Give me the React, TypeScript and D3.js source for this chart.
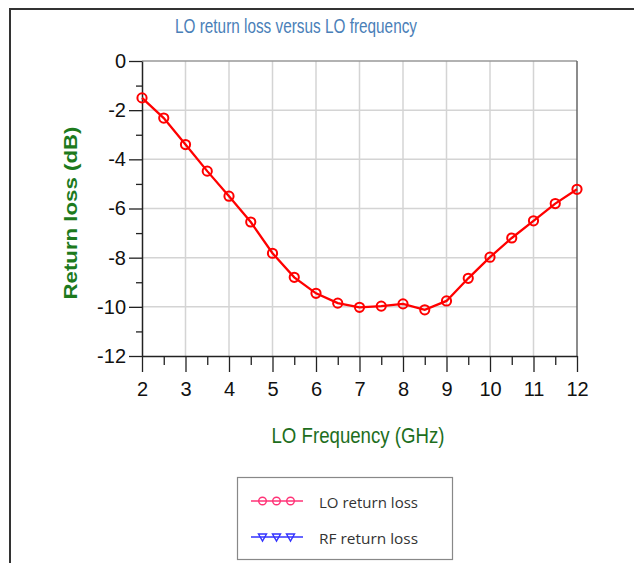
import { useEffect, useRef } from 'react';
import * as d3 from 'd3';

// LO frequency (GHz) and measured LO return loss (dB)
const freqs = [2, 2.5, 3, 3.5, 4, 4.5, 5, 5.5, 6, 6.5, 7, 7.5, 8, 8.5, 9, 9.5, 10, 10.5, 11, 11.5, 12];
const loReturnLoss = [-1.5, -2.32, -3.4, -4.48, -5.5, -6.55, -7.82, -8.8, -9.45, -9.85, -10.02, -9.97, -9.88, -10.12, -9.76, -8.84, -7.98, -7.2, -6.5, -5.8, -5.22];

const xMajorTicks = [2, 3, 4, 5, 6, 7, 8, 9, 10, 11, 12];
const xMinorTicks = [2.5, 3.5, 4.5, 5.5, 6.5, 7.5, 8.5, 9.5, 10.5, 11.5];
const yMajorTicks = [0, -2, -4, -6, -8, -10, -12];
const yMinorTicks = [-1, -3, -5, -7, -9, -11];

const legendItems = ['LO return loss', 'RF return loss'];

const NARROW = 'Liberation Sans Narrow, Arial Narrow, Liberation Sans, Arial, sans-serif';

const App = () => {
    const svgRef = useRef<SVGSVGElement | null>(null);

    useEffect(() => {
        if (!svgRef.current) return;
        const svg = d3.select(svgRef.current);
        svg.selectAll('*').remove();

        const width = 634;
        const height = 563;
        const margin = { top: 61, right: 57, bottom: 207, left: 142 };

        const x = d3.scaleLinear().domain([2, 12]).range([margin.left, width - margin.right]);
        const y = d3.scaleLinear().domain([-12, 0]).range([height - margin.bottom, margin.top]);

        svg.append('rect').attr('width', width).attr('height', height).attr('fill', '#fff');

        // outer frame (only top and left edges visible)
        svg.append('path')
            .attr('d', `M10,${height + 5}V9H${width + 5}`)
            .attr('fill', 'none')
            .attr('stroke', '#333')
            .attr('stroke-width', 2);

        // title
        svg.append('text')
            .attr('x', 296)
            .attr('y', 33)
            .attr('text-anchor', 'middle')
            .attr('font-family', NARROW)
            .attr('font-size', 21)
            .attr('fill', '#4a80b8')
            .attr('textLength', 242)
            .attr('lengthAdjust', 'spacingAndGlyphs')
            .text('LO return loss versus LO frequency');

        // grid
        const grid = svg.append('g').attr('stroke', '#d4d4d4').attr('stroke-width', 1.5);
        grid.selectAll('line.v')
            .data(xMajorTicks.slice(1, -1))
            .join('line')
            .attr('class', 'v')
            .attr('x1', d => x(d)).attr('x2', d => x(d))
            .attr('y1', y(0)).attr('y2', y(-12));
        grid.selectAll('line.h')
            .data(yMajorTicks.slice(1, -1))
            .join('line')
            .attr('class', 'h')
            .attr('x1', x(2)).attr('x2', x(12))
            .attr('y1', d => y(d)).attr('y2', d => y(d));

        // plot frame top / right
        svg.append('line')
            .attr('x1', x(2)).attr('x2', x(12)).attr('y1', y(0)).attr('y2', y(0))
            .attr('stroke', '#999').attr('stroke-width', 1.5);
        svg.append('line')
            .attr('x1', x(12)).attr('x2', x(12)).attr('y1', y(0)).attr('y2', y(-12))
            .attr('stroke', '#666').attr('stroke-width', 1.5);

        // axes
        const fmt = (d: d3.NumberValue) => String(d);
        const xAxis = svg.append('g')
            .attr('transform', `translate(0,${y(-12)})`)
            .call(d3.axisBottom(x).tickValues(xMajorTicks).tickFormat(fmt).tickSize(16).tickPadding(10).tickSizeOuter(0));
        svg.append('g')
            .attr('transform', `translate(0,${y(-12)})`)
            .call(d3.axisBottom(x).tickValues(xMinorTicks).tickSize(9).tickFormat(() => '').tickSizeOuter(0))
            .call(g => g.select('.domain').remove());

        const yAxis = svg.append('g')
            .attr('transform', `translate(${x(2)},0)`)
            .call(d3.axisLeft(y).tickValues(yMajorTicks).tickFormat(fmt).tickSize(13).tickPadding(3).tickSizeOuter(0));
        svg.append('g')
            .attr('transform', `translate(${x(2)},0)`)
            .call(d3.axisLeft(y).tickValues(yMinorTicks).tickSize(6).tickFormat(() => '').tickSizeOuter(0))
            .call(g => g.select('.domain').remove());

        [xAxis, yAxis].forEach(g => {
            g.select('.domain').attr('stroke', '#222').attr('stroke-width', 1.5);
            g.attr('font-family', NARROW).attr('font-size', 20);
            g.selectAll('text').attr('fill', '#111');
        });
        svg.selectAll('.tick line').attr('stroke', '#222').attr('stroke-width', 1.3);

        // axis titles
        svg.append('text')
            .attr('transform', `translate(77,213) rotate(-90)`)
            .attr('text-anchor', 'middle')
            .attr('font-family', 'Liberation Sans, Arial, sans-serif')
            .attr('font-size', 18)
            .attr('font-weight', 'bold')
            .attr('fill', '#1d7a1d')
            .attr('textLength', 173)
            .attr('lengthAdjust', 'spacingAndGlyphs')
            .text('Return loss (dB)');

        svg.append('text')
            .attr('x', 358)
            .attr('y', 443)
            .attr('text-anchor', 'middle')
            .attr('font-family', NARROW)
            .attr('font-size', 22)
            .attr('fill', '#1d6e1d')
            .attr('textLength', 173)
            .attr('lengthAdjust', 'spacingAndGlyphs')
            .text('LO Frequency (GHz)');

        // series
        const line = d3.line<number>().x((d, i) => x(freqs[i])).y(d => y(d));
        svg.append('path')
            .datum(loReturnLoss)
            .attr('d', line)
            .attr('fill', 'none')
            .attr('stroke', '#ff0000')
            .attr('stroke-width', 2.3);
        svg.append('g')
            .selectAll('circle')
            .data(loReturnLoss)
            .join('circle')
            .attr('cx', (d, i) => x(freqs[i]))
            .attr('cy', d => y(d))
            .attr('r', 4.6)
            .attr('fill', 'none')
            .attr('stroke', '#ff0000')
            .attr('stroke-width', 2);

        // legend
        const legend = svg.append('g');
        legend.append('rect')
            .attr('x', 237.5).attr('y', 477.5)
            .attr('width', 215).attr('height', 82)
            .attr('fill', '#fff')
            .attr('stroke', '#888')
            .attr('stroke-width', 1.2);

        const colors = ['#ff3377', '#3333ff'];
        const markerX = [262.5, 276.5, 290.5];
        const rows = legend.selectAll('g.row')
            .data(legendItems)
            .join('g')
            .attr('class', 'row')
            .attr('transform', (d, i) => `translate(0,${501 + i * 36})`);

        rows.append('line')
            .attr('x1', 251).attr('x2', 303)
            .attr('y1', 0).attr('y2', 0)
            .attr('stroke', (d, i) => colors[i])
            .attr('stroke-width', 1.5);

        rows.each(function (d, i) {
            const row = d3.select(this);
            markerX.forEach(mx => {
                if (i === 0) {
                    row.append('circle')
                        .attr('cx', mx).attr('cy', 0).attr('r', 3.8)
                        .attr('fill', 'none')
                        .attr('stroke', colors[i])
                        .attr('stroke-width', 1.4);
                } else {
                    row.append('path')
                        .attr('d', `M${mx - 4},-3L${mx + 4},-3L${mx},4Z`)
                        .attr('fill', 'none')
                        .attr('stroke', colors[i])
                        .attr('stroke-width', 1.4);
                }
            });
        });

        rows.append('text')
            .attr('x', 319)
            .attr('y', 7)
            .attr('font-family', 'Open Sans, sans-serif')
            .attr('font-size', 15)
            .attr('fill', '#333')
            .attr('textLength', 99)
            .attr('lengthAdjust', 'spacingAndGlyphs')
            .text(d => d);
    }, []);

    return (
        <svg
            ref={svgRef}
            width="634"
            height="563"
            style={{ position: 'absolute', left: 0, top: 0 }}
        ></svg>
    );
};

export default App;
